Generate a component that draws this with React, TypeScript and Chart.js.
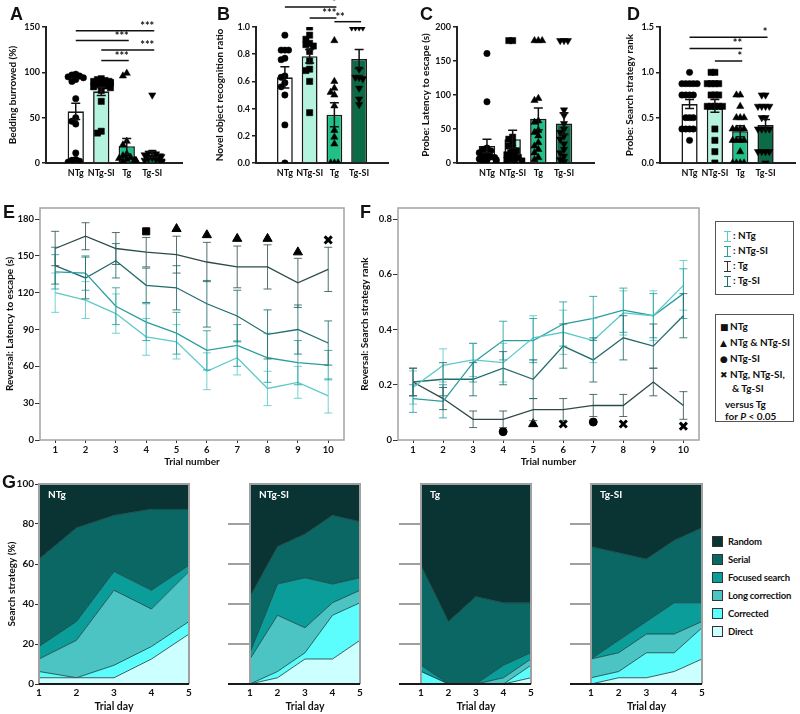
import React, { useEffect, useRef } from 'react';
import { Chart, registerables } from 'chart.js';
Chart.register(...registerables);

const FONT = 'Lato';
Chart.defaults.font.family = FONT;
Chart.defaults.font.weight = 'bold';
Chart.defaults.font.size = 9.5;
Chart.defaults.color = '#1a1a1a';
const TITLE_FONT = { size: 10, weight: 'bold' as const };

// ---------- Top row (A-D) ----------
const GROUPS = ['NTg', 'NTg-SI', 'Tg', 'Tg-SI'];
const BAR_FILLS = ['#ffffff', '#b4f3de', '#21c087', '#0b6b46'];
const MARKER_STYLES = ['circle', 'rect', 'triangle', 'triangle'];
const MARKER_ROT = [0, 0, 0, 180];
const MARKER_R = [3.2, 4.4, 4.2, 4.2];

const A_MEANS = [57, 79, 18.5, 9.5];
const A_SEMS = [9, 4.5, 8.5, 3.5];
const A_NTG = [98, 97, 96, 95, 94, 92, 90, 71, 50, 46, 43, 11, 4, 3, 2, 1];
const A_NTGSI = [93, 92, 91, 90, 90, 89, 88, 87, 86, 85, 84, 83, 80, 68, 35, 33];
const A_TG = [99, 96, 24, 20, 10, 8, 6, 5, 4, 3, 3, 2, 2, 2, 1, 1];
const A_TGSI = [75, 12, 11, 10, 9, 8, 7, 6, 5, 4, 3, 2, 2, 1, 1, 1];
const A_TICKS = [0, 50, 100, 150];
const A_SIG_FROM = [0, 0, 1, 1];
const A_SIG_TO = [3, 2, 3, 2];
const A_SIG_Y = [146, 135, 124.5, 113];
const A_SIG_TXT = ['***', '***', '***', '***'];

const B_MEANS = [0.63, 0.785, 0.355, 0.765];
const B_SEMS = [0.078, 0.05, 0.088, 0.07];
const B_NTG = [0.94, 0.83, 0.83, 0.83, 0.77, 0.76, 0.64, 0.63, 0.59, 0.56, 0.5, 0.28, 0.0];
const B_NTGSI = [1.0, 0.94, 0.91, 0.88, 0.87, 0.86, 0.82, 0.75, 0.69, 0.68, 0.6, 0.37];
const B_TG = [0.9, 0.6, 0.55, 0.52, 0.5, 0.42, 0.24, 0.19, 0.14, 0, 0, 0];
const B_TGSI = [1, 1, 1, 1, 0.69, 0.63, 0.63, 0.62, 0.55, 0.47, 0.43];
const B_TICKS = [0, 0.2, 0.4, 0.6, 0.8, 1.0];
const B_SIG_FROM = [0, 1, 2];
const B_SIG_TO = [2, 2, 3];
const B_SIG_Y = [1.147, 1.066, 1.039];
const B_SIG_TXT = ['*', '***', '**'];
const B_SIG_ALIGN = ['end', 'end', 'start'];

const C_MEANS = [25, 35, 65, 58];
const C_SEMS = [10, 13, 16, 16];
const C_NTG = [161, 90, 22, 20, 18, 15, 12, 10, 9, 8, 6, 5, 4, 3, 2];
const C_NTGSI = [180, 180, 38, 35, 30, 25, 22, 18, 15, 12, 10, 8, 6, 4, 3, 2];
const C_TG = [180, 180, 180, 95, 92, 62, 60, 48, 45, 40, 30, 25, 20, 15, 8, 5];
const C_TGSI = [180, 180, 180, 78, 70, 58, 50, 45, 40, 35, 28, 20, 15, 10, 5, 2];
const C_TICKS = [0, 50, 100, 150, 200];

const D_MEANS = [0.65, 0.63, 0.35, 0.42];
const D_SEMS = [0.05, 0.07, 0.06, 0.06];
const D_NTG = [1, 0.875, 0.875, 0.875, 0.875, 0.875, 0.75, 0.75, 0.75, 0.75, 0.5, 0.5, 0.5, 0.375, 0.375, 0.375, 0.375, 0.25];
const D_NTGSI = [1, 1, 0.875, 0.875, 0.875, 0.875, 0.75, 0.75, 0.75, 0.625, 0.625, 0.625, 0.625, 0.625, 0.375, 0.25, 0.125, 0];
const D_TG = [0.75, 0.75, 0.625, 0.5, 0.5, 0.5, 0.375, 0.375, 0.375, 0.375, 0.25, 0.25, 0.25, 0.25, 0.125, 0, 0, 0, 0];
const D_TGSI = [0.75, 0.75, 0.625, 0.625, 0.625, 0.625, 0.5, 0.5, 0.375, 0.375, 0.375, 0.375, 0.125, 0.125, 0.125, 0.125, 0];
const D_TICKS = [0, 0.5, 1.0, 1.5];
const D_SIG_FROM = [0, 0, 1];
const D_SIG_TO = [3, 2, 2];
const D_SIG_Y = [1.386, 1.264, 1.125];
const D_SIG_TXT = ['*', '**', '*'];

// ---------- E / F ----------
const TRIALS = [1, 2, 3, 4, 5, 6, 7, 8, 9, 10];
const SERIES = ['NTg', 'NTg-SI', 'Tg', 'Tg-SI'];
const LINE_COLORS = ['#5ccaca', '#2a9e9e', '#2b4a4a', '#226c6c'];
const ERR_COLORS = ['rgba(92,202,202,0.85)', 'rgba(42,158,158,0.85)', 'rgba(43,74,74,0.8)', 'rgba(34,108,108,0.85)'];

const E_NTG = [120, 114, 103, 84, 80, 56, 67, 42, 47, 36];
const E_NTGSI = [137, 136, 109, 96, 87, 73, 77, 67, 63, 61];
const E_TG = [156, 166, 156, 153, 151, 145, 141, 141, 128, 139];
const E_TGSI = [142, 132, 146, 126, 124, 111, 101, 86, 90, 79];
const E_NTG_SEM = [16, 15, 16, 15, 14, 15, 14, 14, 13, 14];
const E_NTGSI_SEM = [14, 14, 15, 15, 17, 16, 17, 20, 18, 12];
const E_TG_SEM = [14, 11, 13, 12, 15, 16, 17, 18, 20, 18];
const E_TGSI_SEM = [15, 17, 14, 14, 18, 19, 21, 20, 20, 18];
const E_TICKS = [0, 30, 60, 90, 120, 150, 180];
const E_MARK_X = [4, 5, 6, 7, 8, 9, 10];
const E_MARK_Y = [170, 172, 167, 164, 164, 153, 163];
const E_MARK_STYLE = ['rect', 'triangle', 'triangle', 'triangle', 'triangle', 'triangle', 'crossRot'];

const F_NTG = [0.19, 0.27, 0.29, 0.28, 0.37, 0.39, 0.36, 0.46, 0.45, 0.56];
const F_NTGSI = [0.15, 0.14, 0.28, 0.36, 0.36, 0.42, 0.44, 0.47, 0.45, 0.53];
const F_TG = [0.21, 0.15, 0.075, 0.075, 0.11, 0.11, 0.125, 0.125, 0.21, 0.125];
const F_TGSI = [0.21, 0.22, 0.22, 0.26, 0.22, 0.34, 0.29, 0.37, 0.34, 0.45];
const F_NTG_SEM = [0.06, 0.06, 0.06, 0.07, 0.08, 0.08, 0.08, 0.08, 0.09, 0.09];
const F_NTGSI_SEM = [0.05, 0.06, 0.07, 0.07, 0.08, 0.08, 0.08, 0.08, 0.08, 0.09];
const F_TG_SEM = [0.05, 0.04, 0.03, 0.03, 0.04, 0.04, 0.04, 0.04, 0.05, 0.05];
const F_TGSI_SEM = [0.05, 0.06, 0.06, 0.06, 0.07, 0.08, 0.08, 0.08, 0.08, 0.08];
const F_TICKS = [0, 0.2, 0.4, 0.6, 0.8];
const F_MARK_X = [4, 5, 6, 7, 8, 10];
const F_MARK_Y = [0.03, 0.058, 0.058, 0.065, 0.058, 0.05];
const F_MARK_STYLE = ['circle', 'triangle', 'crossRot', 'circle', 'crossRot', 'crossRot'];

// ---------- G ----------
const DAYS = [1, 2, 3, 4, 5];
const STRATS = ['Direct', 'Corrected', 'Long correction', 'Focused search', 'Serial', 'Random'];
const STRAT_COLORS = ['#ccffff', '#5cfdfd', '#4cc4c4', '#0a9d9a', '#0a6763', '#0a3434'];
const G_TICKS = [0, 20, 40, 60, 80, 100];
const G_NTG = [
  [3.125, 3.125, 3.125, 12.5, 25],
  [3.125, 0, 6.25, 6.25, 6.25],
  [6.25, 18.75, 37.5, 18.75, 25],
  [6.25, 9.375, 9.375, 9.375, 3.125],
  [43.75, 46.875, 28.125, 40.625, 28.125],
  [37.5, 21.875, 15.625, 12.5, 12.5],
];
const G_NTGSI = [
  [0, 3.125, 12.5, 12.5, 21.875],
  [0, 3.125, 3.125, 21.875, 18.75],
  [12.5, 28.125, 12.5, 6.25, 6.25],
  [3.125, 15.625, 25, 9.375, 6.25],
  [28.125, 18.75, 21.875, 34.375, 28.125],
  [56.25, 31.25, 25, 15.625, 18.75],
];
const G_TG = [
  [0, 0, 0, 0, 3.125],
  [6.25, 0, 0, 0, 6.25],
  [0, 0, 0, 3.125, 3.125],
  [3.125, 0, 0, 6.25, 3.125],
  [50, 31.25, 43.75, 31.25, 25],
  [40.625, 68.75, 56.25, 59.375, 59.375],
];
const G_TGSI = [
  [0, 3.125, 3.125, 6.25, 12.5],
  [3.125, 3.125, 12.5, 9.375, 15.625],
  [9.375, 9.375, 9.375, 9.375, 3.125],
  [0, 6.25, 6.25, 15.625, 9.375],
  [56.25, 43.75, 31.25, 31.25, 37.5],
  [31.25, 34.375, 37.5, 28.125, 21.875],
];

// ---------- helpers ----------
function swarm(vals: number[], range: number): number[] {
  const order = vals.map((_, i) => i).sort((a, b) => vals[b] - vals[a]);
  const placed: [number, number][] = [];
  const out = vals.map(() => 0);
  const hy = range * 0.038, hx = 0.15;
  const cands = [0, -0.075, 0.075, -0.15, 0.15, -0.225, 0.225, -0.3, 0.3, -0.36, 0.36];
  for (const i of order) {
    const y = vals[i];
    let best = 0;
    for (const c of cands) {
      best = c;
      const ok = placed.every(([px, py]) => {
        const dx = (c - px) / hx, dy = (y - py) / hy;
        return dx * dx + dy * dy >= 1;
      });
      if (ok) break;
    }
    out[i] = best;
    placed.push([best, y]);
  }
  return out;
}

function errPlugin(id: string, xId: string, xs: number[], means: number[][], sems: number[][], colors: string[], capHalf: number, width: number) {
  return {
    id,
    afterDatasetsDraw(chart: any) {
      const sx = chart.scales[xId], sy = chart.scales.y, ctx = chart.ctx;
      ctx.save();
      means.forEach((series, si) => {
        ctx.strokeStyle = colors[si];
        ctx.lineWidth = width;
        series.forEach((m, k) => {
          const x = sx.getPixelForValue(xs[k]);
          const y1 = sy.getPixelForValue(m + sems[si][k]);
          const y0 = sy.getPixelForValue(m - sems[si][k]);
          ctx.beginPath();
          ctx.moveTo(x, y0); ctx.lineTo(x, y1);
          ctx.moveTo(x - capHalf, y0); ctx.lineTo(x + capHalf, y0);
          ctx.moveTo(x - capHalf, y1); ctx.lineTo(x + capHalf, y1);
          ctx.stroke();
        });
      });
      ctx.restore();
    },
  };
}

function sigPlugin(from: number[], to: number[], ys: number[], txt: string[], align?: string[]) {
  return {
    id: 'sig',
    afterDraw(chart: any) {
      const sx = chart.scales.x, sy = chart.scales.y, ctx = chart.ctx;
      ctx.save();
      ctx.strokeStyle = '#111';
      ctx.fillStyle = '#111';
      ctx.lineWidth = 1.5;
      ctx.font = `bold 11px ${FONT}`;
      ctx.textBaseline = 'bottom';
      from.forEach((f, i) => {
        const py = sy.getPixelForValue(ys[i]);
        const x0 = sx.getPixelForValue(f), x1 = sx.getPixelForValue(to[i]) + 2;
        ctx.beginPath(); ctx.moveTo(x0, py); ctx.lineTo(x1, py); ctx.stroke();
        const a = align ? align[i] : 'end';
        ctx.textAlign = a === 'start' ? 'left' : 'right';
        ctx.fillText(txt[i], a === 'start' ? x0 + 1 : x1, py + 1);
      });
      ctx.restore();
    },
  };
}

const noPlugins = { legend: { display: false }, tooltip: { enabled: false } };
const GROUP_POS = [0, 1, 2, 3];

function makeBarChart(p: any) {
  const range = p.ticks[p.ticks.length - 1] - p.ticks[0];
  const scatterSets = p.points.map((vals: number[], i: number) => {
    const offs = swarm(vals, range);
    return {
      type: 'scatter', order: 0,
      data: vals.map((v, k) => ({ x: GROUP_POS[i] + offs[k], y: v })),
      pointStyle: MARKER_STYLES[i], pointRotation: MARKER_ROT[i], pointRadius: MARKER_R[i],
      pointBackgroundColor: '#000', pointBorderColor: '#000', pointBorderWidth: 0.5,
    };
  });
  return {
    type: 'bar',
    data: {
      datasets: [
        {
          type: 'bar', order: 1, grouped: false,
          data: p.means.map((m: number, i: number) => ({ x: GROUP_POS[i], y: m })),
          backgroundColor: BAR_FILLS, borderColor: '#1a1a1a', borderWidth: 1.6, barPercentage: 0.64, categoryPercentage: 1,
        },
        ...scatterSets,
      ],
    },
    options: {
      animation: false, responsive: false,
      layout: { padding: { top: 27, right: p.padRight, left: 0, bottom: 0 } },
      plugins: noPlugins,
      scales: {
        x: {
          type: 'linear', min: -0.5, max: 3.5,
          afterBuildTicks: (s: any) => { s.ticks = GROUP_POS.map((v) => ({ value: v })); },
          grid: { display: false, drawTicks: false },
          border: { display: true, color: '#222', width: 2 },
          ticks: { padding: 5, color: '#111', font: { size: 9 }, maxRotation: 0, minRotation: 0, autoSkip: false, callback: (v: any) => GROUPS[Math.round(Number(v))] },
          afterFit: (s: any) => { s.height = 37; },
        },
        y: {
          min: p.ticks[0], max: p.ticks[p.ticks.length - 1],
          afterBuildTicks: (s: any) => { s.ticks = p.ticks.map((v: number) => ({ value: v })); },
          ticks: { padding: 2, color: '#111', font: { size: 9 }, callback: (v: any) => Number(v).toFixed(p.decimals) },
          grid: { drawOnChartArea: false, drawTicks: true, tickLength: 4, color: '#222', lineWidth: 1.5 },
          border: { display: true, color: '#222', width: 2 },
          title: { display: true, text: p.title, color: '#111', font: TITLE_FONT, padding: { top: p.titlePad, bottom: 0 } },
          afterFit: (s: any) => { s.width = p.yWidth; },
        },
      },
    },
    plugins: [
      errPlugin('errbar', 'x', GROUP_POS, [p.means], [p.sems], ['#111'], 4.5, 1.5),
      ...(p.sig ? [sigPlugin(p.sig.from, p.sig.to, p.sig.y, p.sig.txt, p.sig.align)] : []),
    ],
  };
}

const boxPlugin = {
  id: 'box',
  afterDraw(chart: any) {
    const { ctx, chartArea: a } = chart;
    ctx.save();
    ctx.strokeStyle = '#a3a3a3';
    ctx.lineWidth = 1.5;
    ctx.strokeRect(a.left, a.top, a.right - a.left, a.bottom - a.top);
    ctx.restore();
  },
};

const MARK_SIZE: Record<string, number> = { rect: 5, triangle: 5.3, circle: 4, crossRot: 5 };

function makeLineChart(p: any) {
  return {
    type: 'line',
    data: {
      datasets: [
        ...p.series.map((s: number[], i: number) => ({
          data: s.map((v, k) => ({ x: TRIALS[k], y: v })),
          borderColor: LINE_COLORS[i], borderWidth: 1.3, pointRadius: 0, tension: 0, fill: false,
        })),
        {
          type: 'scatter',
          data: p.markX.map((x: number, k: number) => ({ x, y: p.markY[k] })),
          pointStyle: p.markStyle,
          pointRadius: p.markStyle.map((s: string) => MARK_SIZE[s]),
          pointBackgroundColor: '#000', pointBorderColor: '#000',
          pointBorderWidth: p.markStyle.map((s: string) => (s === 'crossRot' ? 3 : 1)),
        },
      ],
    },
    options: {
      animation: false, responsive: false,
      layout: { padding: { top: 8, right: 5, left: 0, bottom: 0 } },
      plugins: noPlugins,
      scales: {
        x: {
          type: 'linear', min: 0.5, max: 10.52,
          afterBuildTicks: (s: any) => { s.ticks = TRIALS.map((v) => ({ value: v })); },
          grid: { drawOnChartArea: false, drawTicks: true, tickLength: 3, color: '#333' },
          border: { display: false },
          ticks: { padding: 1, color: '#111' },
          title: { display: true, text: 'Trial number', color: '#111', font: TITLE_FONT, padding: { top: 0, bottom: 2 } },
          afterFit: (s: any) => { s.height = 30; },
        },
        y: {
          min: 0, max: p.max,
          afterBuildTicks: (s: any) => { s.ticks = p.ticks.map((v: number) => ({ value: v })); },
          grid: { drawOnChartArea: false, drawTicks: true, tickLength: 5, color: '#333' },
          border: { display: false },
          ticks: { padding: 1, color: '#111', callback: p.fmt },
          title: { display: true, text: p.title, color: '#111', font: TITLE_FONT, padding: { top: p.titlePad, bottom: 0 } },
          afterFit: (s: any) => { s.width = p.yWidth; },
        },
      },
    },
    plugins: [boxPlugin, errPlugin('errline', 'x', TRIALS, p.series, p.sems, ERR_COLORS, 4, 1)],
  };
}

function makeAreaChart(p: any) {
  return {
    type: 'line',
    data: {
      datasets: STRATS.map((name, j) => ({
        label: name,
        data: p.data[j].map((v: number, k: number) => ({ x: DAYS[k], y: v })),
        backgroundColor: STRAT_COLORS[j], borderColor: '#163838', borderWidth: 0.8,
        pointRadius: 0, tension: 0, fill: j === 0 ? 'origin' : '-1',
      })),
    },
    options: {
      animation: false, responsive: false,
      layout: { padding: { top: 14, right: 8, left: p.gap, bottom: 0 } },
      plugins: noPlugins,
      scales: {
        x: {
          type: 'linear', min: 1, max: 5,
          afterBuildTicks: (s: any) => { s.ticks = DAYS.map((v) => ({ value: v })); },
          grid: { display: false, drawTicks: false },
          border: { display: false },
          ticks: { padding: 3, color: '#111', font: { size: 10 } },
          title: { display: true, text: 'Trial day', color: '#111', font: { size: 10.5, weight: 'bold' }, padding: { top: 0, bottom: 1 } },
          afterFit: (s: any) => { s.height = 30; },
        },
        y: {
          display: p.showY, stacked: true, min: 0, max: 100,
          afterBuildTicks: (s: any) => { s.ticks = G_TICKS.map((v) => ({ value: v })); },
          grid: { drawOnChartArea: false, drawTicks: true, tickLength: 4, color: '#333' },
          border: { display: false },
          ticks: { padding: 1, color: '#111', font: { size: 10 } },
          title: { display: true, text: 'Search strategy (%)', color: '#111', font: TITLE_FONT, padding: { top: 6, bottom: 0 } },
          afterFit: (s: any) => { s.width = 39; },
        },
      },
    },
    plugins: [{
      id: 'frame',
      afterDraw(chart: any) {
        const { ctx, chartArea: a } = chart;
        const sy = chart.scales.y;
        ctx.save();
        ctx.strokeStyle = '#a0a0a0';
        ctx.lineWidth = 2;
        ctx.beginPath();
        ctx.moveTo(a.left, a.bottom); ctx.lineTo(a.left, a.top); ctx.lineTo(a.right, a.top); ctx.lineTo(a.right, a.bottom);
        ctx.stroke();
        if (p.gap > 0) {
          ctx.beginPath();
          [20, 40, 60, 80].forEach((v) => {
            const y = sy.getPixelForValue(v);
            ctx.moveTo(a.left - p.gap, y); ctx.lineTo(a.left, y);
          });
          ctx.stroke();
        }
        ctx.strokeStyle = '#1a1a1a';
        ctx.lineWidth = 2;
        ctx.beginPath();
        ctx.moveTo(a.left - p.gap, a.bottom); ctx.lineTo(a.right, a.bottom);
        ctx.stroke();
        ctx.fillStyle = '#ffffff';
        ctx.font = `bold 10px ${FONT}`;
        ctx.textBaseline = 'middle';
        ctx.textAlign = 'left';
        ctx.fillText(p.name, a.left + 9, a.top + 11);
        ctx.restore();
      },
    }],
  };
}

function ChartCanvas({ left, top, width, height, make }: any) {
  const ref = useRef<HTMLCanvasElement>(null);
  useEffect(() => {
    const c = new Chart(ref.current as HTMLCanvasElement, make());
    return () => c.destroy();
  }, []);
  return <canvas ref={ref} width={width} height={height} style={{ position: 'absolute', left, top, width, height }} />;
}

function Letter({ x, y, t }: any) {
  return <div style={{ position: 'absolute', left: x, top: y, fontFamily: 'Liberation Sans, Arial, sans-serif', fontWeight: 'bold', fontSize: 18, lineHeight: 1, color: '#111' }}>{t}</div>;
}

function ErrGlyph({ color }: any) {
  return (
    <span style={{ display: 'inline-block', position: 'relative', width: 7, height: 11, borderTop: `1.5px solid ${color}`, borderBottom: `1.5px solid ${color}`, boxSizing: 'border-box', verticalAlign: 'middle', marginRight: 2 }}>
      <span style={{ position: 'absolute', left: 2.75, top: 0, bottom: 0, width: 1.5, background: color }} />
    </span>
  );
}

const LEGEND_GLYPH_COLORS = ['#5ccaca', '#2a9e9e', '#333333', '#226c6c'];
const SIG_LEGEND = [
  { sym: '■', text: 'NTg' },
  { sym: '▲', text: 'NTg & NTg-SI' },
  { sym: '●', text: 'NTg-SI' },
  { sym: '✖', text: 'NTg, NTg-SI,' },
];

const txt: any = { fontFamily: FONT, fontWeight: 'bold', fontSize: 10, color: '#111', lineHeight: '15px', whiteSpace: 'nowrap' };

export default function App() {
  const fmtInt = (v: any) => String(v);
  const fmtF = (v: any) => (Number(v) === 0 ? '0' : Number(v).toFixed(1));
  const gPanels = [
    { name: 'NTg', data: G_NTG, left: 0, width: 197, gap: 0, showY: true },
    { name: 'NTg-SI', data: G_NTGSI, left: 189, width: 179, gap: 22, showY: false },
    { name: 'Tg', data: G_TG, left: 360, width: 179, gap: 22, showY: false },
    { name: 'Tg-SI', data: G_TGSI, left: 531, width: 179, gap: 21, showY: false },
  ];
  return (
    <div style={{ position: 'absolute', left: 0, top: 0, width: 800, height: 714, background: '#fff', overflow: 'hidden' }}>
      <ChartCanvas left={0} top={0} width={200} height={200} make={() => makeBarChart({
        means: A_MEANS, sems: A_SEMS, points: [A_NTG, A_NTGSI, A_TG, A_TGSI], ticks: A_TICKS, decimals: 0,
        title: 'Bedding burrowed (%)', yWidth: 46, padRight: 18, titlePad: 7,
        sig: { from: A_SIG_FROM, to: A_SIG_TO, y: A_SIG_Y, txt: A_SIG_TXT },
      })} />
      <ChartCanvas left={200} top={0} width={200} height={200} make={() => makeBarChart({
        means: B_MEANS, sems: B_SEMS, points: [B_NTG, B_NTGSI, B_TG, B_TGSI], ticks: B_TICKS, decimals: 1,
        title: 'Novel object recognition ratio', yWidth: 56, padRight: 12, titlePad: 14,
        sig: { from: B_SIG_FROM, to: B_SIG_TO, y: B_SIG_Y, txt: B_SIG_TXT, align: B_SIG_ALIGN },
      })} />
      <ChartCanvas left={400} top={0} width={200} height={200} make={() => makeBarChart({
        means: C_MEANS, sems: C_SEMS, points: [C_NTG, C_NTGSI, C_TG, C_TGSI], ticks: C_TICKS, decimals: 0,
        title: 'Probe: Latency to escape (s)', yWidth: 57, padRight: 6, titlePad: 20,
      })} />
      <ChartCanvas left={600} top={0} width={200} height={200} make={() => makeBarChart({
        means: D_MEANS, sems: D_SEMS, points: [D_NTG, D_NTGSI, D_TG, D_TGSI], ticks: D_TICKS, decimals: 1,
        title: 'Probe: Search strategy rank', yWidth: 60, padRight: 3, titlePad: 24,
        sig: { from: D_SIG_FROM, to: D_SIG_TO, y: D_SIG_Y, txt: D_SIG_TXT },
      })} />

      <ChartCanvas left={0} top={200} width={352} height={270} make={() => makeLineChart({
        series: [E_NTG, E_NTGSI, E_TG, E_TGSI], sems: [E_NTG_SEM, E_NTGSI_SEM, E_TG_SEM, E_TGSI_SEM],
        max: 189, ticks: E_TICKS, fmt: fmtInt, title: 'Reversal: Latency to escape (s)', titlePad: 4, yWidth: 40,
        markX: E_MARK_X, markY: E_MARK_Y, markStyle: E_MARK_STYLE,
      })} />
      <ChartCanvas left={352} top={200} width={355} height={270} make={() => makeLineChart({
        series: [F_NTG, F_NTGSI, F_TG, F_TGSI], sems: [F_NTG_SEM, F_NTGSI_SEM, F_TG_SEM, F_TGSI_SEM],
        max: 0.84, ticks: F_TICKS, fmt: fmtF, title: 'Reversal: Search strategy rank', titlePad: 7, yWidth: 46,
        markX: F_MARK_X, markY: F_MARK_Y, markStyle: F_MARK_STYLE,
      })} />

      {gPanels.map((g) => (
        <ChartCanvas key={g.name} left={g.left} top={470} width={g.width} height={244} make={() => makeAreaChart(g)} />
      ))}

      <Letter x={10} y={5} t="A" />
      <Letter x={217} y={5} t="B" />
      <Letter x={420} y={5} t="C" />
      <Letter x={627} y={5} t="D" />
      <Letter x={3} y={203} t="E" />
      <Letter x={360} y={203} t="F" />
      <Letter x={2} y={473} t="G" />

      <div style={{ position: 'absolute', left: 715, top: 221, width: 79, height: 74, boxSizing: 'border-box', border: '1.5px solid #555', padding: '6px 0 0 8px' }}>
        {SERIES.map((s, i) => (
          <div key={s} style={txt}><ErrGlyph color={LEGEND_GLYPH_COLORS[i]} />: {s}</div>
        ))}
      </div>
      <div style={{ position: 'absolute', left: 715, top: 314, width: 79, height: 108, boxSizing: 'border-box', border: '1.5px solid #555', padding: '4px 0 0 4px' }}>
        {SIG_LEGEND.map((s) => (
          <div key={s.text} style={txt}><span style={{ fontFamily: 'DejaVu Sans', fontSize: 9, display: 'inline-block', width: 10 }}>{s.sym}</span>{s.text}</div>
        ))}
        <div style={{ ...txt, lineHeight: '11px', paddingLeft: 12 }}>&amp; Tg-SI</div>
        <div style={{ ...txt, lineHeight: '12px', marginTop: 4, paddingLeft: 5 }}>versus Tg</div>
        <div style={{ ...txt, lineHeight: '12px', paddingLeft: 5 }}>for <i>P</i> &lt; 0.05</div>
      </div>

      <div style={{ position: 'absolute', left: 712, top: 532 }}>
        {[...STRATS].reverse().map((s, i) => (
          <div key={s} style={{ display: 'flex', alignItems: 'center', height: 18 }}>
            <span style={{ display: 'inline-block', width: 11, height: 11, boxSizing: 'border-box', border: '1.5px solid #333', background: STRAT_COLORS[STRATS.length - 1 - i], marginRight: 5 }} />
            <span style={{ ...txt, fontSize: 9.5, letterSpacing: -0.2 }}>{s}</span>
          </div>
        ))}
      </div>
    </div>
  );
}
